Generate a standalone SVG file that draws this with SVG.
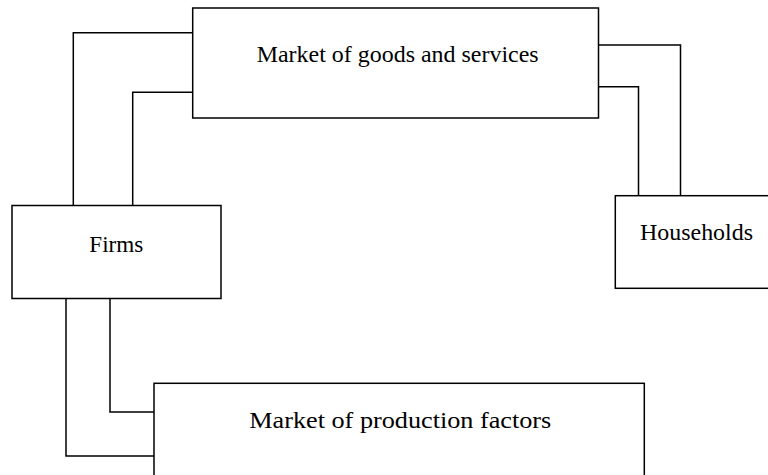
<svg xmlns="http://www.w3.org/2000/svg" width="768" height="475" viewBox="0 0 768 475">
<style>
.box{fill:#fff;stroke:#000;stroke-width:1.5}
.con{fill:none;stroke:#000;stroke-width:1.5}
.lbl{font-family:"Liberation Serif","Times New Roman",serif;font-size:23px;fill:#000}
</style>
<rect width="768" height="475" fill="#fff"/>
<g id="connectors">
<polyline class="con" points="192.7,32.7 73.3,32.7 73.3,205.5"/>
<polyline class="con" points="192.7,92.3 132.7,92.3 132.7,205.5"/>
<polyline class="con" points="596.5,86.7 596.5,45 680.5,45 680.5,195.7"/>
<polyline class="con" points="596.5,86.7 638.5,86.7 638.5,195.7"/>
<polyline class="con" points="66,298.3 66,456 154,456"/>
<polyline class="con" points="110,298.3 110,412 154,412"/>
</g>
<g id="goods-market">
<rect class="box" x="192.7" y="8" width="405.8" height="110"/>
<text class="lbl" x="256.7" y="61.7" textLength="282" lengthAdjust="spacingAndGlyphs">Market of goods and services</text>
</g>
<g id="firms">
<rect class="box" x="12" y="205.5" width="209" height="93"/>
<text class="lbl" x="89.3" y="251.7" textLength="54" lengthAdjust="spacingAndGlyphs">Firms</text>
</g>
<g id="households">
<rect class="box" x="615.3" y="195.7" width="200" height="92.6"/>
<text class="lbl" x="640" y="240" textLength="113" lengthAdjust="spacingAndGlyphs">Households</text>
</g>
<g id="factors-market">
<rect class="box" x="154" y="383.3" width="490.3" height="120"/>
<text class="lbl" x="249.3" y="428.3" textLength="302" lengthAdjust="spacingAndGlyphs">Market of production factors</text>
</g>
</svg>
